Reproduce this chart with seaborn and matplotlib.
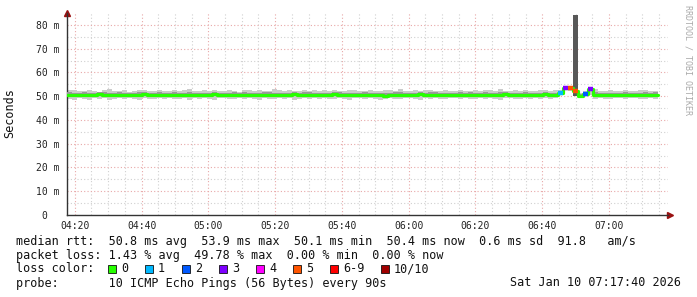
import numpy as np
import pandas as pd
import matplotlib
matplotlib.use("Agg")
import matplotlib.pyplot as plt
import matplotlib.dates as mdates
from matplotlib.patches import Rectangle
import seaborn as sns

# ---------------- data ----------------
start_time = "2026-01-10 04:17:40"
end_time = "2026-01-10 07:17:40"
step_seconds = 90

median_ms = [
    50.6, 50.5, 50.4, 50.7, 50.6, 50.5, 50.8, 50.6, 50.4, 50.5, 50.7, 50.6, 50.5, 50.3, 50.6, 50.8, 50.5, 50.4, 50.6, 50.7,
    50.5, 50.6, 50.4, 50.5, 50.7, 50.6, 50.3, 50.5, 50.6, 50.8, 50.6, 50.5, 50.4, 50.6, 50.5, 50.7, 50.6, 50.5, 50.4, 50.6,
    50.7, 50.5, 50.6, 50.4, 50.5, 50.8, 50.6, 50.5, 50.7, 50.6, 50.4, 50.5, 50.6, 50.9, 50.7, 50.5, 50.6, 50.4, 50.5, 50.7,
    50.6, 50.5, 50.3, 50.2, 50.5, 50.6, 50.7, 50.5, 50.4, 50.6, 50.8, 50.6, 50.5, 50.7, 50.6, 50.4, 50.5, 50.6, 50.7, 50.5,
    50.6, 50.4, 50.5, 50.7, 50.6, 50.5, 50.6, 50.8, 50.6, 50.4, 50.5, 50.6, 50.7, 50.5, 50.6, 50.8, 50.4, 50.5, 51.4, 53.6,
    53.3, 52.2, 50.0, 51.1, 53.0, 50.5, 50.6, 50.4, 50.5, 50.6, 50.5, 50.7, 50.6, 50.5, 50.4, 50.6, 50.5, 50.6,
]

loss_pings = [0] * 98 + [1, 3, 5, 5, 0, 2, 3] + [0] * 13

smoke_hi = [
    52.4, 52.8, 52.0, 52.3, 52.7, 52.2, 51.9, 52.5, 52.9, 52.1, 52.3, 52.6, 51.9, 52.2, 52.8, 52.4, 52.1, 52.3, 52.5, 52.0,
    52.2, 52.7, 52.1, 52.4, 53.0, 52.3, 52.0, 52.5, 52.2, 52.8, 52.1, 52.3, 52.6, 52.2, 51.9, 52.5, 52.4, 52.1, 52.7, 52.3,
    52.1, 52.9, 52.4, 52.2, 52.6, 52.3, 52.0, 52.8, 52.2, 52.4, 52.1, 52.5, 52.3, 52.7, 52.2, 52.1, 52.6, 52.4, 52.0, 52.3,
    52.5, 52.2, 52.0, 52.7, 52.4, 52.2, 53.1, 52.3, 52.1, 52.5, 52.2, 52.4, 52.8, 52.1, 52.3, 52.6, 52.2, 52.0, 52.5, 52.3,
    52.2, 52.7, 52.1, 52.4, 52.6, 52.2, 53.2, 52.3, 52.1, 52.5, 52.3, 52.8, 52.2, 52.1, 52.6, 52.4, 52.2, 52.5, 52.5, 54.2,
    54.0, 84.2, 51.3, 52.0, 53.6, 52.9, 52.3, 52.2, 52.5, 52.1, 52.3, 52.6, 52.2, 52.1, 52.4, 52.5, 52.2, 52.1,
]

smoke_lo = [
    49.0, 48.3, 49.2, 48.9, 48.5, 49.1, 48.8, 49.3, 48.6, 49.0, 49.2, 48.7, 49.1, 48.9, 48.4, 49.2, 49.0, 48.8, 49.1, 48.9,
    49.2, 48.7, 49.0, 49.3, 48.6, 49.1, 48.8, 49.2, 48.9, 48.5, 49.1, 49.3, 48.7, 49.0, 49.2, 48.8, 49.1, 48.9, 48.6, 49.2,
    49.0, 48.7, 49.2, 48.9, 49.1, 48.6, 49.0, 49.3, 48.8, 49.1, 48.9, 49.2, 48.7, 49.0, 49.3, 48.9, 48.5, 49.1, 49.2, 48.8,
    49.1, 48.9, 48.6, 48.8, 49.2, 49.0, 48.7, 49.1, 49.3, 48.9, 48.6, 49.1, 48.8, 49.2, 49.0, 48.7, 49.1, 49.3, 48.9, 49.2,
    49.0, 48.7, 49.2, 48.9, 49.1, 48.8, 48.5, 49.1, 49.2, 48.9, 48.7, 49.1, 49.0, 49.3, 48.8, 49.1, 48.9, 49.2, 50.6, 52.4,
    52.3, 49.9, 49.4, 50.2, 50.3, 48.9, 49.2, 49.0, 48.8, 49.1, 49.3, 48.9, 49.1, 49.2, 48.8, 49.0, 49.2, 48.9,
]

core_hi = [
    51.6, 51.5, 51.3, 51.7, 51.5, 51.4, 51.6, 51.6, 51.4, 51.3, 51.7, 51.5, 51.4, 51.3, 51.7, 51.8, 51.4, 51.3, 51.6, 51.5,
    51.5, 51.6, 51.3, 51.5, 51.8, 51.5, 51.2, 51.5, 51.5, 51.9, 51.4, 51.4, 51.4, 51.6, 51.3, 51.7, 51.5, 51.4, 51.4, 51.6,
    51.6, 51.5, 51.5, 51.3, 51.4, 51.8, 51.4, 51.6, 51.7, 51.5, 51.3, 51.5, 51.5, 51.9, 51.6, 51.4, 51.5, 51.5, 51.3, 51.7,
    51.5, 51.5, 51.2, 51.3, 51.4, 51.6, 51.8, 51.4, 51.4, 51.5, 51.8, 51.5, 51.6, 51.6, 51.5, 51.3, 51.5, 51.5, 51.7, 51.4,
    51.6, 51.4, 51.4, 51.7, 51.5, 51.5, 51.6, 51.8, 51.5, 51.3, 51.5, 51.7, 51.5, 51.5, 51.5, 51.8, 51.3, 51.5, 51.9, 53.9,
    53.7, 52.8, 50.8, 51.6, 53.3, 51.6, 51.5, 51.4, 51.5, 51.5, 51.5, 51.7, 51.5, 51.5, 51.3, 51.6, 51.5, 51.6,
]

core_lo = [
    49.9, 49.8, 49.8, 50.1, 49.9, 49.9, 50.1, 50.0, 49.7, 49.9, 50.1, 49.9, 49.9, 49.7, 49.9, 50.2, 49.9, 49.8, 50.0, 50.1,
    49.9, 49.9, 49.8, 50.0, 50.0, 50.0, 49.7, 49.9, 49.9, 50.1, 50.0, 49.9, 49.7, 50.0, 49.9, 50.0, 50.0, 49.9, 49.8, 50.0,
    50.1, 49.8, 50.0, 49.8, 49.9, 50.1, 50.0, 49.9, 50.0, 50.0, 49.8, 49.9, 49.9, 50.2, 50.1, 49.9, 49.9, 49.8, 49.9, 50.0,
    50.0, 49.9, 49.7, 49.6, 49.9, 50.0, 50.0, 49.9, 49.8, 50.0, 50.1, 50.0, 49.8, 50.1, 50.0, 49.8, 49.9, 50.0, 50.1, 49.9,
    50.0, 49.8, 49.9, 50.1, 50.0, 49.9, 49.9, 50.2, 50.0, 49.8, 49.9, 49.9, 50.1, 49.9, 50.0, 50.2, 49.8, 49.9, 51.0, 53.1,
    52.9, 51.4, 49.7, 50.6, 52.6, 49.9, 50.0, 49.8, 49.9, 50.0, 49.9, 50.1, 50.0, 49.9, 49.8, 50.0, 49.9, 50.0,
]

y_ticks = [0, 10, 20, 30, 40, 50, 60, 70, 80]
y_tick_labels = ["0  ", "10 m", "20 m", "30 m", "40 m", "50 m", "60 m", "70 m", "80 m"]
x_tick_labels = ["04:20", "04:40", "05:00", "05:20", "05:40", "06:00", "06:20", "06:40", "07:00"]

loss_labels = ["0", "1", "2", "3", "4", "5", "6-9", "10/10"]
loss_colors = ["#26ff00", "#00b8ff", "#0059ff", "#7e00ff", "#ff00ff", "#ff5500", "#ff0000", "#a00000"]

line_rtt = "median rtt:  50.8 ms avg  53.9 ms max  50.1 ms min  50.4 ms now  0.6 ms sd  91.8   am/s"
line_loss = "packet loss: 1.43 % avg  49.78 % max  0.00 % min  0.00 % now"
line_probe = "probe:       10 ICMP Echo Pings (56 Bytes) every 90s"
date_text = "Sat Jan 10 07:17:40 2026"

# ---------------- figure ----------------
sns.set_style("white")
plt.rcParams["font.family"] = ["DejaVu Sans Mono", "DejaVu Sans"]

W, H = 697, 297
fig = plt.figure(figsize=(W / 100, H / 100), dpi=100, facecolor="white")
L, R, T, B = 67, 668, 13, 215
ax = fig.add_axes([L / W, 1 - B / H, (R - L) / W, (B - T) / H])
ax.set_facecolor("white")

times = pd.date_range(start_time, periods=len(median_ms), freq=f"{step_seconds}s")
tnum = mdates.date2num(times.to_pydatetime())
width = step_seconds / 86400.0

med = np.array(median_ms)
lo = np.array(smoke_lo); hi = np.array(smoke_hi)
clo = np.array(core_lo); chi = np.array(core_hi)

# grid
x0 = mdates.date2num(pd.Timestamp(start_time).to_pydatetime())
x1 = mdates.date2num(pd.Timestamp(end_time).to_pydatetime())
minor_x = pd.date_range("2026-01-10 04:20", "2026-01-10 07:15", freq="5min")
for tt in minor_x:
    xv = mdates.date2num(tt.to_pydatetime())
    major = (tt.minute % 20 == 0)
    ax.axvline(xv, color="#e8a8a8" if major else "#d0d0d0", lw=0.8,
               ls=(0, (1, 2)), zorder=0)
for yv in np.arange(5, 85, 5):
    major = (yv % 10 == 0)
    ax.axhline(yv, color="#e8a8a8" if major else "#d0d0d0", lw=0.8,
               ls=(0, (1, 2)), zorder=0)

# smoke
outer_col = ["#585858" if (h - m) > 10 else "#cbcbcb" for h, m in zip(hi, med)]
ax.bar(tnum, hi - lo, bottom=lo, width=width, align="edge", color=outer_col,
       linewidth=0, zorder=2)
ax.bar(tnum, chi - clo, bottom=clo, width=width, align="edge", color="#999999",
       linewidth=0, zorder=3)

# median line
df = pd.DataFrame({"t": list(tnum) + [tnum[-1] + width], "m": list(med) + [med[-1]]})
sns.lineplot(data=df, x="t", y="m", drawstyle="steps-post", color="#26ff00",
             lw=2.3, ax=ax, zorder=5, estimator=None)
def loss_color(l):
    if l <= 5:
        return loss_colors[l]
    return loss_colors[6] if l < 10 else loss_colors[7]
lossy = [i for i, l in enumerate(loss_pings) if l > 0]
ax.hlines(med[lossy], tnum[lossy], tnum[lossy] + width,
          colors=[loss_color(loss_pings[i]) for i in lossy], lw=3.2, zorder=6)

ax.set_xlim(x0, x1)
ax.set_ylim(0, 85)
ax.set_xlabel("")
ax.set_ylabel("")

ax.set_yticks(y_ticks)
ax.set_yticklabels(y_tick_labels)
major_x = pd.date_range("2026-01-10 04:20", "2026-01-10 07:00", freq="20min")
ax.set_xticks(mdates.date2num(major_x.to_pydatetime()))
ax.set_xticklabels(x_tick_labels)
ax.tick_params(axis="both", labelsize=7, colors="#222222", length=2, width=0.8)
ax.tick_params(axis="y", pad=3.5)
ax.tick_params(axis="x", pad=2)

for s in ["top", "right"]:
    ax.spines[s].set_visible(False)
for s in ["left", "bottom"]:
    ax.spines[s].set_color("#333333")
    ax.spines[s].set_linewidth(1.0)

# arrows
ax.plot([0], [1], marker="^", ms=4, color="#991111", transform=ax.transAxes, clip_on=False)
ax.plot([1.004], [0], marker=">", ms=4, color="#991111", transform=ax.transAxes, clip_on=False)

# y label and watermark
fig.text(10 / W, 1 - 113 / H, "Seconds", rotation=90, ha="center", va="center",
         fontsize=8.5, color="#111111")
fig.text(688 / W, 1 - 60 / H, "RRDTOOL / TOBI OETIKER", rotation=270, ha="center",
         va="center", fontsize=6, color="#aaaaaa")

# legend lines
fs = 8.5
def ftext(x, y, s, **kw):
    fig.text(x / W, 1 - y / H, s, fontsize=fs, va="center", color="#111111", **kw)

ftext(16, 241, line_rtt)
ftext(16, 255, line_loss)
ftext(16, 269, "loss color:")
box_x = [108, 145, 182, 219, 256, 293, 330, 381]
for bx, lab, col in zip(box_x, loss_labels, loss_colors):
    fig.patches.append(Rectangle((bx / W, 1 - 273 / H), 8 / W, 8 / H,
                                 transform=fig.transFigure, facecolor=col,
                                 edgecolor="#111111", lw=0.6, figure=fig))
    ftext(bx + 13, 269, lab)
ftext(16, 283, line_probe)
ftext(681, 283, date_text, ha="right")

fig.savefig("out.png", dpi=100, facecolor="white")
